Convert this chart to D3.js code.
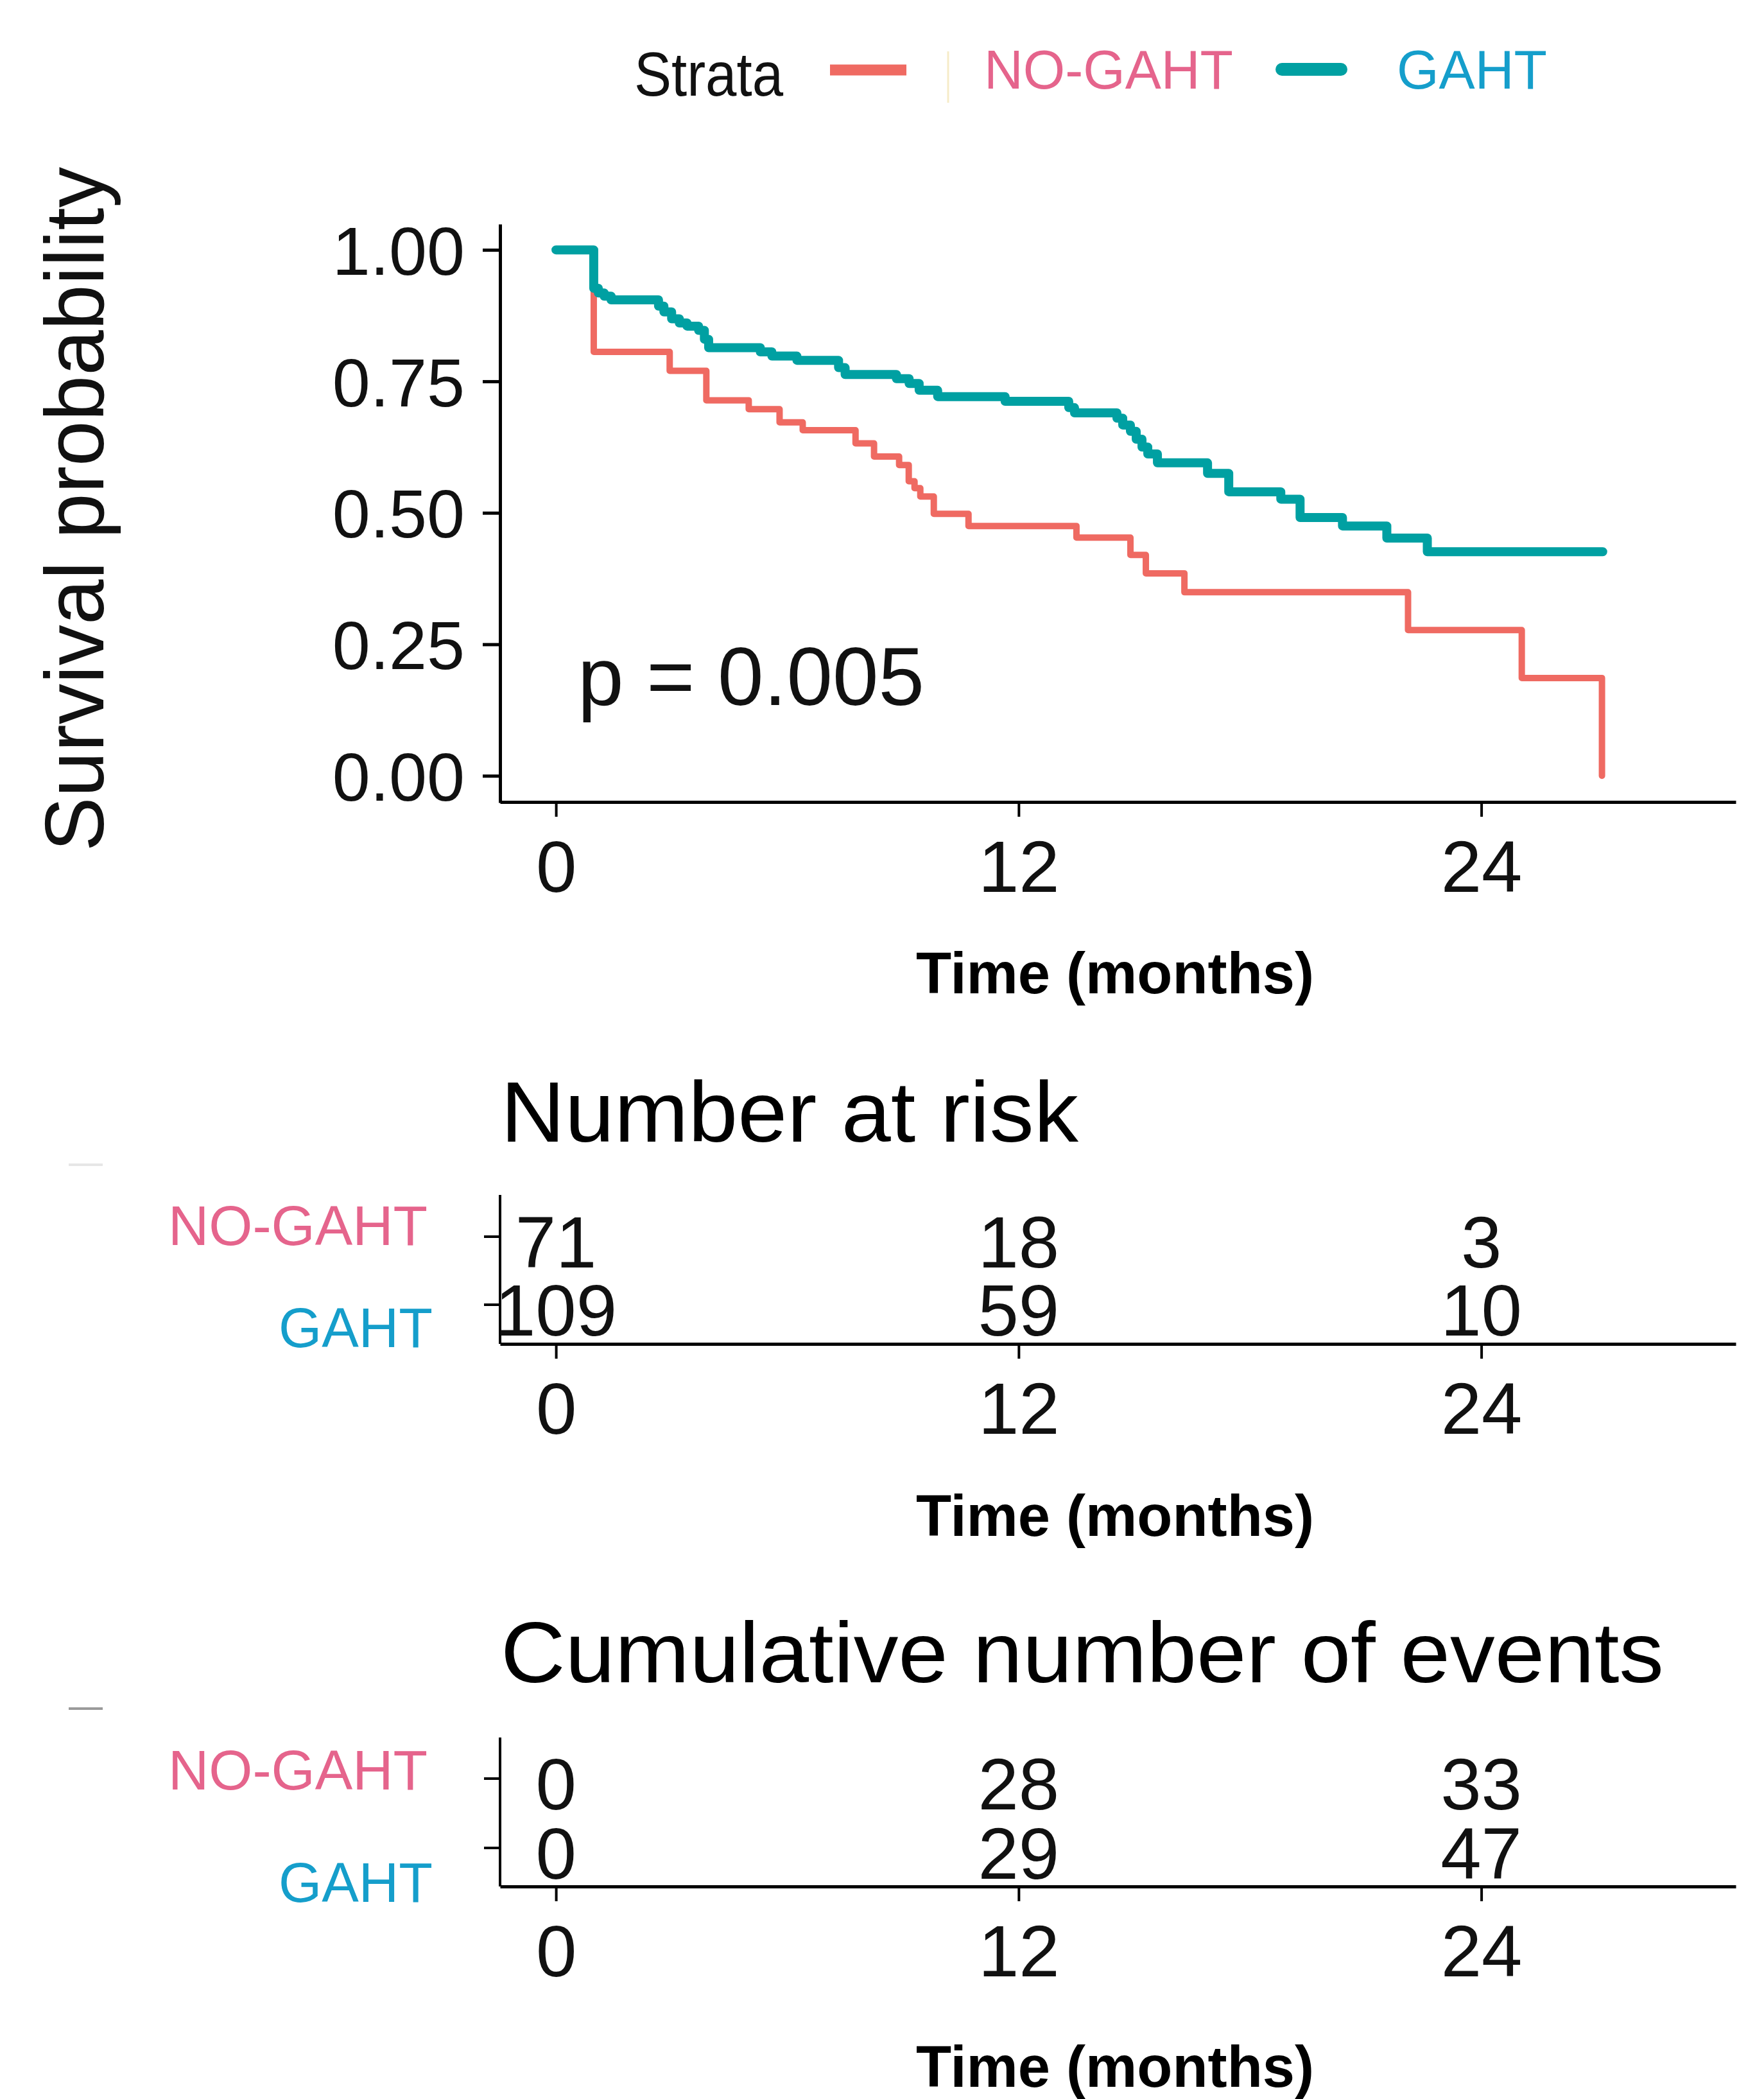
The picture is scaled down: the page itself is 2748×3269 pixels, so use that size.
<!DOCTYPE html>
<html>
<head>
<meta charset="utf-8">
<script src="https://cdn.jsdelivr.net/npm/d3@7"></script>
<style>
  html, body { margin: 0; padding: 0; background: #ffffff; }
  svg { display: block; }
  text { font-family: "Liberation Sans", Arial, sans-serif; }
</style>
</head>
<body>
<svg id="chart" width="2748" height="3269"></svg>
<script>
// ---------------- DATA ----------------
const strata = ["NO-GAHT", "GAHT"];

const timesNoGaht = [0, 0.98, 2.95, 3.9, 5.0, 5.8, 6.4, 7.77, 8.25, 8.9, 9.15, 9.3, 9.45, 9.8, 10.7, 13.5, 14.9, 15.3, 16.3, 22.1, 25.05, 27.13];
const survNoGaht  = [1, 0.806, 0.770, 0.714, 0.697, 0.672, 0.657, 0.632, 0.607, 0.591, 0.560, 0.547, 0.531, 0.498, 0.475, 0.453, 0.420, 0.385, 0.349, 0.277, 0.186, 0];

const timesGaht = [0, 0.98, 1.1, 1.25, 1.43, 2.66, 2.8, 3.0, 3.2, 3.4, 3.7, 3.85, 3.96, 5.3, 5.6, 6.25, 7.33, 7.5, 8.83, 9.16, 9.42, 9.9, 11.65, 13.3, 13.45, 14.55, 14.7, 14.9, 15.05, 15.2, 15.35, 15.6, 16.9, 17.45, 18.8, 19.3, 20.4, 21.55, 22.6, 27.15];
const survGaht  = [1, 0.927, 0.918, 0.912, 0.905, 0.893, 0.882, 0.869, 0.861, 0.855, 0.847, 0.830, 0.814, 0.806, 0.798, 0.790, 0.776, 0.763, 0.755, 0.746, 0.733, 0.721, 0.712, 0.700, 0.690, 0.680, 0.667, 0.655, 0.640, 0.625, 0.612, 0.595, 0.575, 0.540, 0.526, 0.491, 0.475, 0.452, 0.426, 0.426];

const timeTicks = [0, 12, 24];
const survTicks = [0, 0.25, 0.5, 0.75, 1];
const riskNoGaht = [71, 18, 3];
const riskGaht = [109, 59, 10];
const eventsNoGaht = [0, 28, 33];
const eventsGaht = [0, 29, 47];
const pValueText = "p = 0.005";

// ---------------- STYLE ----------------
const lineColor = { "NO-GAHT": "#EF6A62", "GAHT": "#00A0A2" };
const lineWidth = { "NO-GAHT": 10, "GAHT": 14 };
const labelColor = { "NO-GAHT": "#E5648C", "GAHT": "#159ECB" };

const svg = d3.select("#chart");

// shared x scale (months)
const x = d3.scaleLinear().domain([-1.45, 30.6]).range([779, 2704]);

// ---------------- MAIN PLOT ----------------
const y = d3.scaleLinear().domain([-0.051, 1.049]).range([1250, 349]);
const mainAxisY = 1249;

// y axis
const gy = svg.append("g").attr("transform", `translate(${x(-1.45)},0)`)
  .call(d3.axisLeft(y).tickValues(survTicks).tickFormat(d3.format(".2f"))
        .tickSize(27).tickPadding(28).tickSizeOuter(0));
gy.select(".domain").attr("stroke", "#000").attr("stroke-width", 5);
gy.selectAll(".tick line").attr("stroke", "#000").attr("stroke-width", 5);
gy.selectAll(".tick text").attr("font-size", 106).attr("fill", "#111")
  .attr("font-family", "Liberation Sans, Arial, sans-serif").attr("dy", "0.36em");

// x axis
function bottomAxis(axisY) {
  const g = svg.append("g").attr("transform", `translate(0,${axisY})`)
    .call(d3.axisBottom(x).tickValues(timeTicks).tickFormat(d3.format("d"))
          .tickSize(23).tickPadding(0).tickSizeOuter(0));
  g.select(".domain").attr("stroke", "#000").attr("stroke-width", 5);
  g.selectAll(".tick line").attr("stroke", "#000").attr("stroke-width", 4);
  g.selectAll(".tick text").attr("font-size", 114).attr("fill", "#111")
    .attr("font-family", "Liberation Sans, Arial, sans-serif")
    .attr("y", 140).attr("dy", 0);
  return g;
}
bottomAxis(mainAxisY);

// y label
svg.append("text")
  .attr("transform", "translate(161,793) rotate(-90)")
  .attr("text-anchor", "middle")
  .attr("font-size", 130).attr("fill", "#111")
  .attr("textLength", 1066).attr("lengthAdjust", "spacingAndGlyphs")
  .text("Survival probability");

// x axis title helper
function timeTitle(baseY) {
  svg.append("text")
    .attr("x", 1737).attr("y", baseY)
    .attr("text-anchor", "middle")
    .attr("font-family", "Lato, 'Open Sans', sans-serif")
    .attr("font-weight", 700)
    .attr("font-size", 90).attr("fill", "#000")
    .attr("textLength", 620).attr("lengthAdjust", "spacingAndGlyphs")
    .text("Time (months)");
}
timeTitle(1547);

// curves
const series = [
  { name: "NO-GAHT", t: timesNoGaht, s: survNoGaht },
  { name: "GAHT", t: timesGaht, s: survGaht }
];
const line = d3.line().curve(d3.curveStepAfter)
  .x(d => x(d[0])).y(d => y(d[1]));
svg.append("g").selectAll("path").data(series).join("path")
  .attr("d", d => line(d.t.map((tt, i) => [tt, d.s[i]])))
  .attr("fill", "none")
  .attr("stroke", d => lineColor[d.name])
  .attr("stroke-width", d => lineWidth[d.name])
  .attr("stroke-linejoin", "round")
  .attr("stroke-linecap", "round");

// p-value
svg.append("text")
  .attr("x", 900).attr("y", 1098)
  .attr("font-size", 128).attr("fill", "#111")
  .attr("textLength", 540).attr("lengthAdjust", "spacingAndGlyphs")
  .text(pValueText);

// ---------------- LEGEND ----------------
svg.append("text").attr("x", 988).attr("y", 149)
  .attr("font-size", 96).attr("fill", "#111")
  .attr("textLength", 232).attr("lengthAdjust", "spacingAndGlyphs")
  .text("Strata");
const legendItems = [
  { name: "NO-GAHT", x1: 1293, x2: 1412, tx: 1533, tw: 388, ly: 109 },
  { name: "GAHT", x1: 1997, x2: 2089, tx: 2176, tw: 234, ly: 108 }
];
svg.append("line").attr("x1", 1477).attr("x2", 1477).attr("y1", 80).attr("y2", 160)
  .attr("stroke", "#f6ecc8").attr("stroke-width", 3);
const lg = svg.append("g").selectAll("g").data(legendItems).join("g");
lg.append("line")
  .attr("x1", d => d.x1).attr("x2", d => d.x2)
  .attr("y1", d => d.ly).attr("y2", d => d.ly)
  .attr("stroke", d => lineColor[d.name])
  .attr("stroke-width", d => d.name === "GAHT" ? 20 : 17)
  .attr("stroke-linecap", d => d.name === "GAHT" ? "round" : "butt");
lg.append("text")
  .attr("x", d => d.tx).attr("y", 138)
  .attr("font-size", 86).attr("fill", d => labelColor[d.name])
  .attr("textLength", d => d.tw).attr("lengthAdjust", "spacingAndGlyphs")
  .text(d => d.name);

// ---------------- TABLES ----------------
function table(cfg) {
  // title
  svg.append("text").attr("x", 780).attr("y", cfg.titleY)
    .attr("font-size", 134).attr("fill", "#000")
    .attr("textLength", cfg.titleW).attr("lengthAdjust", "spacingAndGlyphs")
    .text(cfg.title);
  const rowY = d3.scalePoint().domain(strata).range(cfg.rows);
  // y axis line and ticks
  svg.append("line").attr("x1", x(-1.45)).attr("x2", x(-1.45))
    .attr("y1", cfg.top).attr("y2", cfg.axisY)
    .attr("stroke", "#000").attr("stroke-width", 4);
  svg.append("g").selectAll("line").data(strata).join("line")
    .attr("x1", x(-1.45) - 25).attr("x2", x(-1.45))
    .attr("y1", d => rowY(d)).attr("y2", d => rowY(d))
    .attr("stroke", "#000").attr("stroke-width", 4);
  bottomAxis(cfg.axisY);
  // values
  const cells = [];
  strata.forEach((s, si) => cfg.values[si].forEach((v, i) => cells.push({ s, t: timeTicks[i], v })));
  svg.append("g").selectAll("text").data(cells).join("text")
    .attr("x", d => x(d.t)).attr("y", d => rowY(d.s))
    .attr("dy", "0.42em")
    .attr("text-anchor", "middle")
    .attr("font-size", 114).attr("fill", "#111")
    .text(d => d.v);
  // row labels
  svg.append("g").selectAll("text").data(strata).join("text")
    .attr("x", d => d === "GAHT" ? 674 : 666)
    .attr("y", (d, i) => rowY(d) + cfg.labelOffset[i])
    .attr("text-anchor", "end")
    .attr("font-size", 88).attr("fill", d => labelColor[d])
    .attr("textLength", d => d === "GAHT" ? 240 : 404).attr("lengthAdjust", "spacingAndGlyphs")
    .text(d => d);
  // faint mark at far left
  svg.append("line").attr("x1", 107).attr("x2", 160)
    .attr("y1", cfg.markY).attr("y2", cfg.markY)
    .attr("stroke", cfg.markColor).attr("stroke-width", 4);
  timeTitle(cfg.timeY);
}

table({
  title: "Number at risk", titleY: 1778, titleW: 900,
  top: 1861, axisY: 2093, rows: [1926, 2032],
  values: [riskNoGaht, riskGaht],
  labelOffset: [13, 66],
  markY: 1814, markColor: "#e6e6e6",
  timeY: 2392
});
table({
  title: "Cumulative number of events", titleY: 2620, titleW: 1812,
  top: 2706, axisY: 2938, rows: [2770, 2878],
  values: [eventsNoGaht, eventsGaht],
  labelOffset: [17, 84],
  markY: 2661, markColor: "#9a9a9a",
  timeY: 3250
});
</script>
</body>
</html>
